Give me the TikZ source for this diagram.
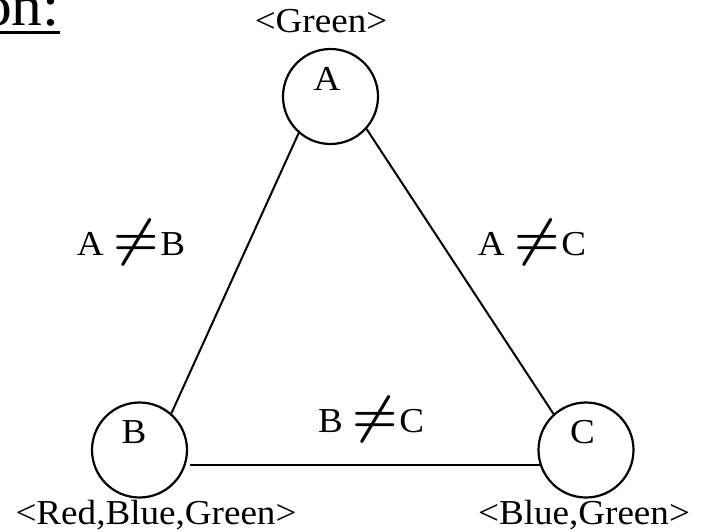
\RequirePackage{fix-cm}
\documentclass[tikz,border=0pt]{standalone}
\usepackage{fontspec}
\setmainfont{Liberation Serif}[FakeStretch=1.06]
\usetikzlibrary{positioning,calc}
\newcommand{\neqsign}{\hspace{10pt}{\fontsize{52}{54}\selectfont\boldmath$\neq$}\hspace{1pt}}

\begin{document}
\begin{tikzpicture}[x=1pt,y=-1pt,font=\fontsize{35}{40}\selectfont,
    vtx/.style={circle,draw,line width=2.2pt,minimum size=95pt,inner sep=0pt},
    edge/.style={line width=2pt},
    txt/.style={anchor=base,inner sep=0pt}]
        \clip (0,0) rectangle (704,531);
        % title, cut at the page edge
        \node[txt,anchor=base west,font=\fontsize{58}{70}\selectfont] (title) at (-19,25) {on:};
        \draw[line width=3pt] ([yshift=-7.5pt]title.base west) -- ([yshift=-7.5pt]title.base east);
        % variables
        \node[vtx] (a) at (330.5,96.5) {};
        \node[vtx] (b) at (139.5,450) {};
        \node[vtx] (c) at (586,450) {};
        \node[txt] (alab) at (327,90) {A};
        \node[txt] (blab) at (134,443) {B};
        \node[txt] (clab) at (582.5,443) {C};
        % domains
        \node[txt] (adom) at (321,32) {<Green>};
        \node[txt] (bdom) at (156,524) {<Red,Blue,Green>};
        \node[txt] (cdom) at (584,524) {<Blue,Green>};
        % constraints
        \draw[edge] (a.229) -- (b.49);
        \draw[edge] (a.-42) -- (c.132);
        \draw[edge] ([xshift=4pt]b.-18) -- (c.198);
        \node[txt] (ab) at (131,255) {A\neqsign B};
        \node[txt] (ac) at (532,255) {A\neqsign C};
        \node[txt] (bc) at (371,432) {B\neqsign C};
      \end{tikzpicture}
\end{document}
